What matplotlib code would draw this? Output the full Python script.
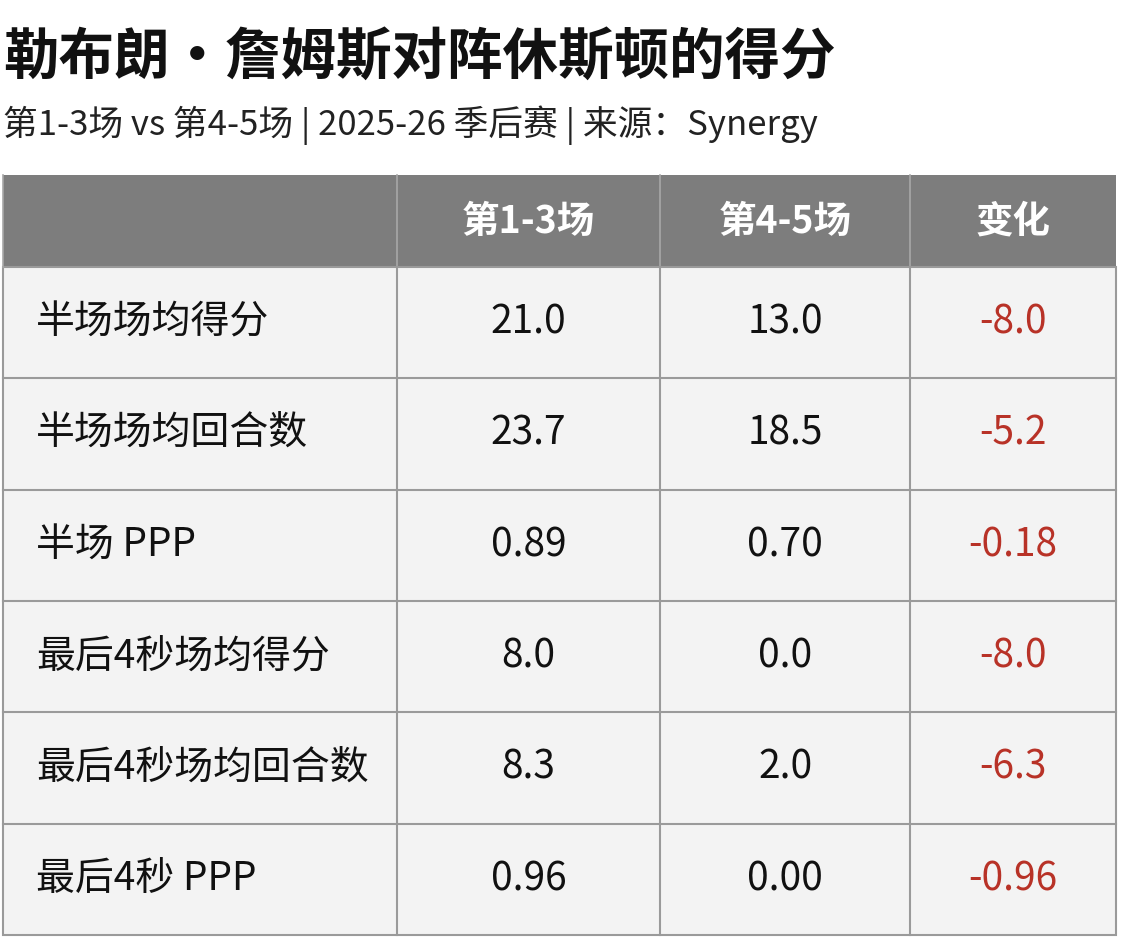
import matplotlib.pyplot as plt
from matplotlib.patches import Rectangle

plt.rcParams['font.family'] = ['Noto Sans CJK SC', 'DejaVu Sans']

title = "勒布朗·詹姆斯对阵休斯顿的得分"
subtitle = "第1-3场 vs 第4-5场 | 2025-26 季后赛 | 来源：Synergy"
headers = ["", "第1-3场", "第4-5场", "变化"]
metrics = ["半场场均得分", "半场场均回合数", "半场 PPP", "最后4秒场均得分", "最后4秒场均回合数", "最后4秒 PPP"]
games_1_3 = ["21.0", "23.7", "0.89", "8.0", "8.3", "0.96"]
games_4_5 = ["13.0", "18.5", "0.70", "0.0", "2.0", "0.00"]
change = ["-8.0", "-5.2", "-0.18", "-8.0", "-6.3", "-0.96"]

fig = plt.figure(figsize=(11.28, 9.44), dpi=100)
ax = fig.add_axes([0, 0, 1, 1])
ax.set_xlim(0, 1128)
ax.set_ylim(944, 0)
ax.axis('off')

ax.text(3, 58, title, fontsize=40, fontweight='bold', va='center', ha='left', color='#111111')
ax.text(3, 125, subtitle, fontsize=25, va='center', ha='left', color='#222222')

col_x = [3, 397, 660, 910, 1116]
top, head_h, row_h = 175, 92, 111.3
grid = '#9a9a9a'

# header
ax.add_patch(Rectangle((col_x[0], top), col_x[-1] - col_x[0], head_h, facecolor='#7d7d7d', edgecolor='none'))
for j, h in enumerate(headers):
    if h:
        ax.text((col_x[j] + col_x[j + 1]) / 2, top + head_h / 2, h, fontsize=27, fontweight='bold',
                color='white', ha='center', va='center')
    ax.plot([col_x[j], col_x[j]], [top, top + head_h], color='#a8a8a8', lw=1.2)

# body
body_top = top + head_h
n = len(metrics)
ax.add_patch(Rectangle((col_x[0], body_top), col_x[-1] - col_x[0], n * row_h, facecolor='#f3f3f3',
                       edgecolor=grid, lw=1.5))
for i in range(n):
    yc = body_top + (i + 0.5) * row_h
    cells = [metrics[i], games_1_3[i], games_4_5[i], change[i]]
    for j, c in enumerate(cells):
        if j == 0:
            ax.text(col_x[0] + 33, yc, c, fontsize=28, color='#111111',
                    ha='left', va='center')
        else:
            ax.text((col_x[j] + col_x[j + 1]) / 2, yc, c, fontsize=28,
                    color='#b83227' if j == 3 else '#111111', ha='center', va='center')
    if i > 0:
        ax.plot([col_x[0], col_x[-1]], [body_top + i * row_h] * 2, color=grid, lw=1.5)
for x in col_x[1:-1]:
    ax.plot([x, x], [body_top, body_top + n * row_h], color=grid, lw=1.5)

fig.savefig('out.png', dpi=100, facecolor='white')
